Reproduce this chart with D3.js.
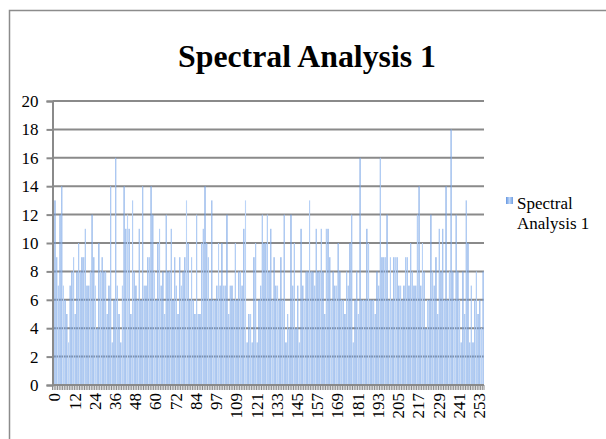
<!DOCTYPE html>
<html>
<head>
  <meta charset="utf-8">
  <title>Spectral Analysis 1</title>
  <script src="https://d3js.org/d3.v7.min.js"></script>
  <style>
    body { margin: 0; background: #fff; }
    svg { display: block; }
    text { font-family: "Liberation Serif", "DejaVu Serif", serif; fill: #000; }
  </style>
</head>
<body>
  <svg width="606" height="439"></svg>
  <script>
    // one value per bin (256 bins)
    const values = [
      7,13,9,7,12,14,7,6,5,3,7,8,9,5,8,10,8,9,9,11,7,7,8,12,9,7,4,10,8,9,8,8,5,7,14,3,6,16,7,5,3,7,
      14,11,12,11,5,13,8,7,6,11,6,14,7,7,9,9,14,12,8,6,10,11,7,8,5,12,8,8,11,6,9,7,5,9,7,8,9,13,10,6,9,6,5,
      12,5,5,10,11,14,10,9,6,13,6,6,7,10,7,10,7,7,12,5,7,7,6,10,6,8,8,7,11,13,3,5,5,3,9,10,3,6,7,12,10,10,12,
      8,11,6,9,7,7,6,9,6,12,3,5,4,12,7,10,4,7,3,11,7,6,8,8,13,8,8,7,11,8,8,11,8,5,11,11,9,6,8,7,7,10,8,
      6,6,5,8,7,10,12,3,6,8,5,16,6,6,6,11,10,6,6,6,5,8,7,16,9,9,9,12,6,9,6,9,9,9,7,7,6,7,9,9,7,10,8,
      7,7,12,14,7,10,8,4,6,6,12,8,7,9,5,11,8,11,6,14,6,8,18,8,6,12,8,6,3,8,5,13,10,3,7,3,6,8,5,6,4,8
    ];
    const categories = d3.range(values.length);
    // labels shown under every 12th bin
    const tickLabels = ["0","12","24","36","48","60","72","84","97","109","121","133",
                        "145","157","169","181","193","205","217","229","241","253"];
    const yTicks = [0, 2, 4, 6, 8, 10, 12, 14, 16, 18, 20];
    const seriesName = "Spectral Analysis 1";

    const svg = d3.select("svg");
    const plotLeft = 52.5, plotRight = 484, plotTop = 101, plotBottom = 385;

    // chart frame
    svg.append("rect")
      .attr("x", 9.5).attr("y", 10.5)
      .attr("width", 620).attr("height", 450)
      .attr("fill", "none")
      .attr("stroke", "#8c8c8c")
      .attr("stroke-width", 1.5);

    svg.append("text")
      .attr("x", 307).attr("y", 67)
      .attr("text-anchor", "middle")
      .attr("font-size", 32)
      .attr("font-weight", "bold")
      .attr("textLength", 258)
      .attr("lengthAdjust", "spacingAndGlyphs")
      .text(seriesName);

    const x = d3.scaleBand().domain(categories).range([plotLeft, plotRight]).padding(0);
    const y = d3.scaleLinear().domain([0, 20]).range([plotBottom, plotTop]);

    // gridlines
    svg.append("g")
      .selectAll("line")
      .data(yTicks)
      .join("line")
      .attr("x1", plotLeft).attr("x2", plotRight)
      .attr("y1", d => y(d)).attr("y2", d => y(d))
      .attr("stroke", "#8a8a8a")
      .attr("stroke-width", 2);

    const defs = svg.append("defs");
    const grad = defs.append("linearGradient").attr("id", "barGrad")
      .attr("x1", "0").attr("x2", "1").attr("y1", "0").attr("y2", "0");
    grad.append("stop").attr("offset", "0%").attr("stop-color", "#6596e0");
    grad.append("stop").attr("offset", "50%").attr("stop-color", "#bcd5f8");
    grad.append("stop").attr("offset", "100%").attr("stop-color", "#709fe3");

    const bw = x.bandwidth() * 0.62;
    svg.append("g")
      .selectAll("rect")
      .data(values)
      .join("rect")
      .attr("x", (d, i) => x(i) + (x.bandwidth() - bw) / 2)
      .attr("width", bw)
      .attr("y", d => y(d))
      .attr("height", d => plotBottom - y(d))
      .attr("fill", "url(#barGrad)");

    // y axis
    const yAxis = svg.append("g")
      .attr("transform", `translate(${plotLeft},0)`)
      .call(d3.axisLeft(y).tickValues(yTicks).tickSize(6).tickPadding(8));
    yAxis.select(".domain").attr("stroke", "#8a8a8a").attr("stroke-width", 2);
    yAxis.selectAll(".tick line").attr("stroke", "#8a8a8a").attr("stroke-width", 2);
    yAxis.selectAll(".tick text")
      .attr("font-family", "Liberation Serif, serif")
      .attr("font-size", 17)
      .attr("fill", "#000");

    // x axis: a tick on every bin edge, labels every 12th bin
    const xg = svg.append("g");
    xg.selectAll("line.tk")
      .data(categories.concat([values.length]))
      .join("line")
      .attr("class", "tk")
      .attr("x1", d => plotLeft + d * x.step()).attr("x2", d => plotLeft + d * x.step())
      .attr("y1", plotBottom).attr("y2", plotBottom + 5)
      .attr("stroke", "#8a8a8a")
      .attr("stroke-width", 1);
    xg.append("line")
      .attr("x1", plotLeft).attr("x2", plotRight)
      .attr("y1", plotBottom).attr("y2", plotBottom)
      .attr("stroke", "#8a8a8a").attr("stroke-width", 2);

    xg.selectAll("text")
      .data(tickLabels)
      .join("text")
      .attr("transform", (d, i) => `translate(${x(i * 12) + x.bandwidth() / 2 + 1},${plotBottom + 8}) rotate(-90)`)
      .attr("text-anchor", "end")
      .attr("dy", "0.35em")
      .attr("font-size", 17)
      .text(d => d);

    // legend
    const lg = svg.append("g").attr("transform", "translate(506,197)");
    lg.append("rect").attr("width", 7).attr("height", 7).attr("fill", "url(#barGrad)");
    lg.append("text").attr("x", 11).attr("y", 12).attr("font-size", 17).text("Spectral");
    lg.append("text").attr("x", 11).attr("y", 32).attr("font-size", 17).text("Analysis 1");
  </script>
</body>
</html>
